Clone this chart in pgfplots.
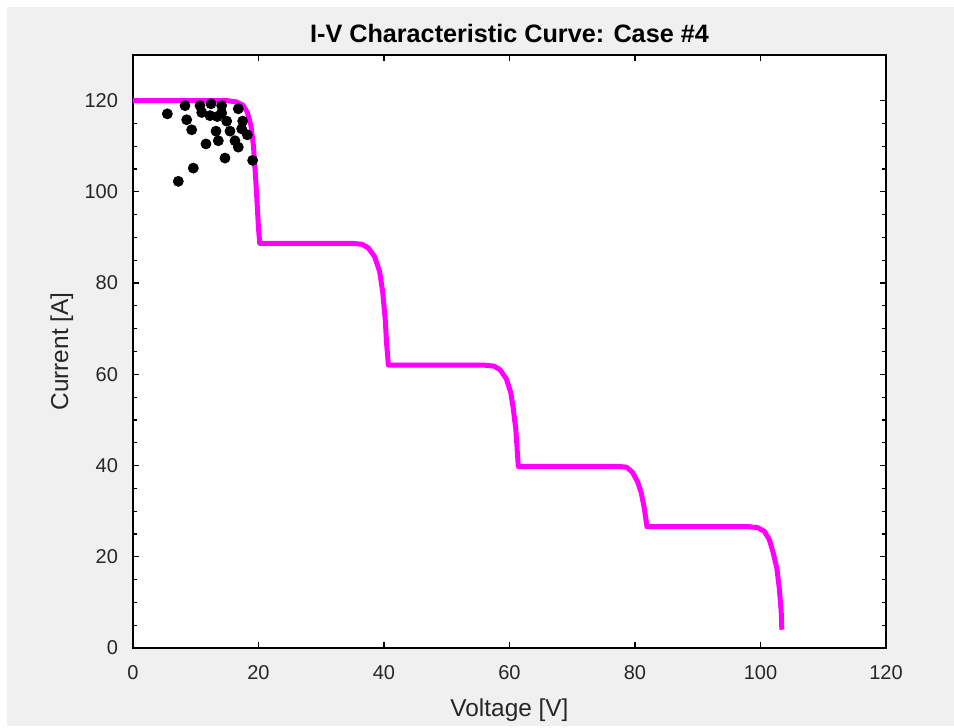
\documentclass[border=0pt]{standalone}
\usepackage{pgfplots}
\pgfplotsset{compat=1.18}
\usepackage{fontspec}
\setmainfont{Liberation Sans}
\usetikzlibrary{backgrounds}
\definecolor{bgc}{HTML}{F0F0F0}
\definecolor{txt}{HTML}{262626}
\begin{document}
\begin{tikzpicture}
\begin{axis}[
  scale only axis,
  width=376.5pt, height=296.5pt,
  xmin=0, xmax=120, ymin=0, ymax=130,
  xtick={0,20,...,120}, ytick={0,20,...,120},
  minor y tick num=3,
  tick align=inside,
  major tick length=3pt, minor tick length=2pt,
  axis line style={line width=0.75pt},
  tick style={line width=0.6pt, black},
  axis background/.style={fill=white},
  /pgf/number format/assume math mode=true,
  ticklabel style={font=\fontsize{10}{12}\selectfont, text=txt},
  xticklabel style={yshift=-5pt},
  yticklabel style={xshift=-4pt},
  xlabel={Voltage [V]}, ylabel={Current [A]},
  label style={font=\fontsize{12.2}{14}\selectfont, text=txt},
  xlabel style={at={(axis description cs:0.5,-0.1147)}, anchor=base},
  ylabel style={at={(axis description cs:-0.086,0.5)}, anchor=base},
  title={I-V Characteristic Curve: Case \#4},
  title style={font=\bfseries\fontsize{12.6}{15}\selectfont, at={(axis description cs:0.5,1.0)}, anchor=base},
]
\addplot[color={rgb,255:red,255;green,0;blue,255}, line width=2.5pt, line join=round] coordinates {
(0,120) (15,120) (16.5,119.7) (17.5,119) (18.2,117.5) (18.8,114.5) (19.2,110) (19.5,104) (19.8,97) (20.0,92) (20.2,88.7)
(35,88.7) (36.5,88.5) (37.5,87.7) (38.5,85.8) (39.3,82.5) (39.8,78) (40.2,72) (40.4,67) (40.7,62)
(56,62) (57.5,61.8) (58.5,61) (59.5,59) (60.2,56) (60.6,52.5) (61.0,48) (61.2,44) (61.4,39.8)
(77.5,39.8) (78.7,39.6) (79.6,38.5) (80.4,36.5) (81.0,34) (81.5,30.5) (81.9,26.6)
(98,26.6) (99.5,26.4) (100.6,25.6) (101.4,23.8) (102.0,21) (102.6,17.5) (103.0,13) (103.3,8) (103.4,4)
};
\addplot[only marks, mark=*, mark size=2.5pt, black] coordinates {
(5.47,117.1) (8.29,118.9) (8.56,115.8) (9.35,113.6) (7.22,102.3) (9.61,105.2)
(10.68,118.9) (10.95,117.4) (12.43,119.3) (12.27,116.7) (11.63,110.5)
(14.13,118.9) (14.13,117.3) (13.43,116.5) (13.23,113.3) (13.6,111.2)
(14.93,115.5) (14.66,107.4) (15.46,113.3) (16.25,111.2) (16.78,109.8)
(16.78,118.2) (17.48,115.5) (17.32,113.8) (18.22,112.5) (19.07,106.9)
};
\end{axis}
\begin{scope}[on background layer]
\fill[white] ([shift={(-66.5pt,-39pt)}]current axis.south west) rectangle ([shift={(34pt,27.5pt)}]current axis.north east);
\fill[bgc] ([shift={(-63pt,-39pt)}]current axis.south west) rectangle ([shift={(34pt,24pt)}]current axis.north east);
\end{scope}
\end{tikzpicture}
\end{document}
